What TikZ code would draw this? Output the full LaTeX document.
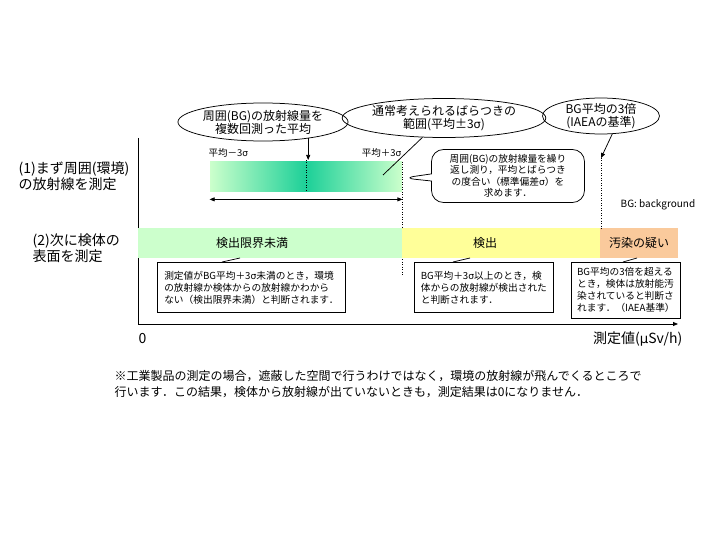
\documentclass[tikz,border=0pt]{standalone}
\usepackage{fontspec}
\setmainfont{Noto Sans CJK JP}
\newfontfamily\grk[Scale=0.95]{DejaVu Sans}
\usetikzlibrary{arrows.meta,positioning,calc,shapes.geometric,shapes.callouts}
\newcommand{\sig}{{\grk σ}}
\definecolor{usumido}{RGB}{204,255,204}
\definecolor{aomido}{RGB}{28,208,152}
\definecolor{kiiro}{RGB}{255,255,153}
\definecolor{daidai}{RGB}{250,202,156}
\tikzset{
  ovl/.style={ellipse,draw,inner sep=0pt,align=center,font=\fontsize{12}{13}\selectfont},
  fuki/.style={rectangle callout,draw,rounded corners=12pt,inner sep=3pt,align=center,
    font=\fontsize{9.7}{11.5}\selectfont},
  memo/.style={draw,anchor=north west,align=left,inner sep=5pt,font=\fontsize{9.7}{12}\selectfont},
  band/.style={minimum height=29pt,inner sep=0pt,font=\fontsize{12}{14}\selectfont},
  ya/.style={-{Triangle[length=5pt,width=4pt]}},
  ten/.style={dash pattern=on 1pt off 1.5pt},
  midasi/.style={anchor=west,align=left,font=\fontsize{14}{14.5}\selectfont},
}

\begin{document}
\begin{tikzpicture}[x=1pt,y=-1pt,line width=0.75pt]
  \useasboundingbox (0,0) rectangle (720,540);
  % jiku
  \coordinate (o) at (138,324); \coordinate (ytop) at (138,138); \coordinate (xend) at (678,324);
  \draw (ytop) -- (o);
  \draw[ya] (o) -- (xend);
  \node[anchor=west,font=\fontsize{14}{16}\selectfont] (zero) at (135,339) {0};
  \node[anchor=east,font=\fontsize{14}{16}\selectfont] (xlab) at (686,339) {測定値({\grk μ}Sv/h)};
  \node[midasi] (lab1) at (15,176) {(1)まず周囲(環境)\\の放射線を測定};
  \node[midasi] (lab2) at (29,248) {(2)次に検体の\\表面を測定};
  % BG no bunpu
  \node[minimum width=192pt,minimum height=30pt,inner sep=0pt,
    left color=usumido,right color=usumido,middle color=aomido] (bg) at (306,177) {};
  \node[anchor=west,font=\fontsize{9.5}{10}\selectfont] (lo) at (205,153) {平均－3\sig};
  \node[anchor=east,font=\fontsize{9.5}{10}\selectfont] (hi) at (405,153) {平均＋3\sig};
  \coordinate (mu) at (306,160);
  \draw[ten] (mu) -- (mu |- bg.south);
  \draw[ten] (bg.north east) -- ++(0,113);
  \draw[{Triangle[length=5pt,width=4pt]}-{Triangle[length=5pt,width=4pt]}]
    ([yshift=-7pt]bg.south west) -- ([yshift=-7pt]bg.south east);
  % fukidashi
  \node[ovl,minimum width=154pt,minimum height=38pt] (e1) at (263,122) {周囲(BG)の放射線量を\\複数回測った平均};
  \node[ovl,minimum width=182pt,minimum height=39pt] (e2) at (444,118) {通常考えられるばらつきの\\範囲(平均±3\sig)};
  \node[ovl,minimum width=117pt,minimum height=33pt] (e3) at (601,116) {BG平均の3倍\\(IAEAの基準)};
  \draw[ya] (e1.-20) -- (e1.-20 |- mu);
  \coordinate (p2) at (383,175);
  \draw (e2.-138) -- (p2);
  \coordinate (p3) at (601,158);
  \draw[ya] (e3.-58) -- (p3);
  \coordinate (p4) at (403,178);
  \node[fuki,minimum width=153pt,minimum height=53pt,callout absolute pointer={(p4)}] (fk) at (508,176)
    {周囲(BG)の放射線量を繰り\\返し測り，平均とばらつき\\の度合い（標準偏差\sig）を\\求めます．};
  \node[anchor=west,font=\fontsize{10}{12}\selectfont] (bgn) at (617,205) {BG: background};
  % kenntai
  \node[band,fill=usumido,minimum width=264pt,label={[font=\fontsize{12}{14}\selectfont,xshift=-18pt]center:検出限界未満}] (r1) at (270,243) {};
  \node[band,fill=kiiro,minimum width=198pt,label={[font=\fontsize{12}{14}\selectfont,xshift=-16pt]center:検出}] (r2) at (501,243) {};
  \node[band,fill=daidai,minimum width=78pt] (r3) at (639,243) {汚染の疑い};
  \draw[ten] (p3) -- (p3 |- r3.north);
  \node[memo,minimum width=188pt,minimum height=50pt] (m1) at (157,262)
    {測定値がBG平均＋3\sig 未満のとき，環境\\の放射線か検体からの放射線かわから\\ない（検出限界未満）と判断されます．};
  \node[memo,minimum width=139pt,minimum height=50pt] (m2) at (414,262)
    {BG平均＋3\sig 以上のとき，検\\体からの放射線が検出された\\と判断されます．};
  \node[memo,minimum width=109pt,minimum height=56pt] (m3) at (571,262)
    {BG平均の3倍を超える\\とき，検体は放射能汚\\染されていると判断さ\\れます．（IAEA基準）};
  \coordinate (q1) at (240,258); \coordinate (q2) at (470,258); \coordinate (q3) at (637,258);
  \draw ($(m1.north west)+(65,0)$) -- (q1);
  \draw ($(m2.north west)+(39,0)$) -- (q2);
  \draw ($(m3.north west)+(52,0)$) -- (q3);
  \node[anchor=north west,align=left,font=\fontsize{12}{16}\selectfont] (note) at (111,367)
    {※工業製品の測定の場合，遮蔽した空間で行うわけではなく，環境の放射線が飛んでくるところで\\行います．この結果，検体から放射線が出ていないときも，測定結果は0になりません．};
\end{tikzpicture}
\end{document}
